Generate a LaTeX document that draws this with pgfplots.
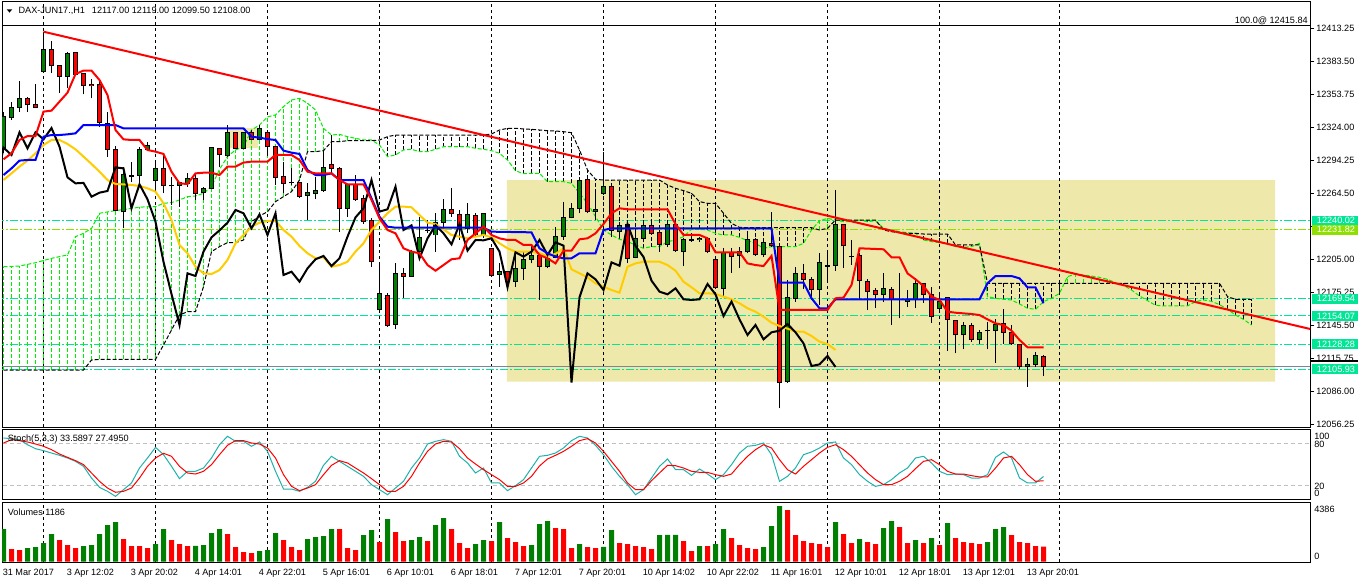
\documentclass[border=0pt]{standalone}
\usepackage{fontspec}
\setmainfont{Liberation Sans}
\usepackage{pgfplots}
\usepackage{pgfplotstable}
\pgfplotsset{compat=1.18}
\definecolor{mtgreen}{HTML}{008000}
\definecolor{mtred}{HTML}{FF0000}
\definecolor{mtgold}{HTML}{FFCC00}
\definecolor{cloudg}{HTML}{00EE00}
\definecolor{pgold}{HTML}{EEE8AA}
\definecolor{spring}{HTML}{00E696}
\definecolor{ygreen}{HTML}{8FE000}
\definecolor{lsg}{HTML}{20B2AA}
\definecolor{slate}{HTML}{778899}
\definecolor{silv}{HTML}{C0C0C0}
\newcommand\mt{\fontsize{6.85pt}{8pt}\selectfont}

\pgfplotstableread{
k o h l c
0 12305.2 12338.3 12300.7 12333.8
1 12333.2 12347.3 12330.7 12342.2
2 12342.2 12366.2 12338.3 12349.7
3 12349.7 12351.8 12338.3 12344.3
4 12344.3 12363.2 12341.3 12342.2
5 12374.3 12410.4 12373.4 12393.9
6 12393.9 12402.0 12372.8 12379.5
7 12379.5 12379.5 12355.4 12370.4
8 12370.4 12392.4 12359.3 12390.9
9 12391.5 12392.4 12371.3 12372.2
10 12372.8 12372.8 12353.9 12361.7
11 12362.9 12367.4 12350.3 12361.7
12 12363.2 12366.8 12324.7 12328.3
13 12327.7 12338.3 12297.7 12304.3
14 12304.3 12307.3 12249.0 12249.0
15 12248.1 12288.7 12233.0 12282.0
16 12280.2 12293.2 12275.1 12280.8
17 12280.5 12306.7 12273.6 12304.3
18 12304.3 12311.2 12303.7 12307.3
19 12276.6 12294.7 12264.6 12287.1
20 12287.1 12299.2 12264.6 12271.5
21 12272.1 12279.6 12254.1 12271.2
22 12271.8 12275.1 12252.6 12274.2
23 12273.6 12283.2 12270.6 12278.1
24 12278.1 12282.6 12258.6 12264.6
25 12265.2 12270.6 12258.6 12269.1
26 12269.1 12306.7 12269.1 12305.8
27 12305.2 12305.2 12288.7 12299.2
28 12298.3 12326.2 12297.7 12319.6
29 12319.3 12320.2 12305.2 12305.2
30 12305.2 12320.2 12305.2 12319.6
31 12319.6 12321.7 12312.7 12313.3
32 12313.3 12326.2 12312.7 12323.5
33 12319.6 12321.7 12298.3 12306.7
34 12306.7 12306.7 12272.1 12279.0
35 12279.6 12293.2 12264.6 12273.6
36 12274.5 12287.1 12272.1 12274.0
37 12274.2 12275.1 12260.1 12261.6
38 12262.8 12273.6 12240.5 12265.2
39 12264.6 12279.6 12259.2 12266.7
40 12267.0 12302.8 12266.1 12288.0
41 12290.2 12317.2 12282.6 12287.1
42 12287.1 12288.7 12230.0 12251.1
43 12251.1 12272.7 12243.5 12272.7
44 12272.7 12281.1 12257.7 12259.2
45 12259.8 12263.1 12236.9 12239.0
46 12239.9 12242.0 12198.4 12202.9
47 12159.4 12199.9 12157.9 12173.8
48 12172.0 12174.4 12144.3 12145.8
49 12146.7 12201.4 12141.9 12192.4
50 12192.4 12196.9 12169.9 12190.0
51 12190.0 12213.5 12189.4 12212.0
52 12212.0 12243.5 12207.5 12224.9
53 12231.5 12240.5 12228.5 12231.2
54 12227.0 12246.6 12212.0 12238.1
55 12238.1 12259.2 12231.5 12249.6
56 12249.6 12269.1 12243.5 12246.6
57 12245.6 12249.6 12222.5 12233.0
58 12233.0 12256.2 12228.5 12245.6
59 12245.0 12246.6 12225.5 12227.0
60 12227.0 12246.6 12224.0 12246.6
61 12215.0 12215.0 12189.4 12190.9
62 12191.8 12201.4 12180.4 12193.9
63 12193.9 12193.9 12178.9 12184.9
64 12184.9 12209.0 12180.4 12196.9
65 12196.9 12212.0 12186.4 12205.1
66 12205.1 12218.0 12201.4 12208.1
67 12208.1 12208.1 12168.4 12199.0
68 12198.4 12209.0 12196.9 12206.0
69 12206.9 12234.5 12206.0 12225.5
70 12225.5 12257.1 12222.5 12242.9
71 12242.9 12255.6 12242.0 12251.1
72 12251.1 12276.6 12246.6 12276.6
73 12277.2 12278.1 12246.6 12248.1
74 12248.1 12264.6 12240.5 12250.2
75 12264.6 12302.2 12263.1 12270.6
76 12271.2 12272.1 12225.5 12231.5
77 12230.0 12239.0 12227.0 12235.7
78 12236.9 12238.1 12201.4 12206.0
79 12206.9 12228.5 12206.0 12224.0
80 12224.0 12239.0 12222.5 12235.7
81 12235.7 12240.5 12227.0 12228.5
82 12229.4 12231.5 12212.0 12218.6
83 12218.6 12240.5 12216.5 12236.6
84 12236.6 12239.0 12212.0 12212.9
85 12212.0 12224.0 12199.0 12222.5
86 12222.5 12228.5 12221.0 12222.2
87 12222.5 12224.9 12221.0 12224.0
88 12224.0 12225.5 12210.5 12212.0
89 12204.5 12204.5 12178.9 12179.8
90 12178.9 12215.0 12171.4 12211.4
91 12211.1 12215.0 12193.0 12207.5
92 12208.1 12216.5 12196.9 12212.0
93 12212.0 12227.0 12210.5 12222.5
94 12222.5 12224.0 12208.1 12209.0
95 12209.0 12222.5 12207.5 12220.4
96 12219.5 12248.1 12216.5 12217.4
97 12216.5 12217.1 12070.6 12093.8
98 12094.7 12186.4 12093.8 12170.8
99 12169.9 12198.4 12166.9 12192.4
100 12192.4 12200.5 12178.0 12187.0
101 12187.0 12189.4 12168.4 12177.4
102 12178.0 12210.5 12163.9 12202.3
103 12199.0 12210.5 12186.4 12199.3
104 12199.3 12267.6 12194.8 12236.9
105 12236.9 12236.9 12196.9 12217.1
106 12207.8 12222.5 12199.9 12207.2
107 12208.1 12210.5 12168.4 12185.8
108 12184.9 12187.0 12159.4 12175.9
109 12176.5 12178.9 12160.9 12173.5
110 12173.5 12192.4 12166.9 12178.9
111 12178.0 12180.4 12145.8 12169.0
112 12168.7 12192.4 12151.8 12168.4
113 12166.9 12177.4 12162.4 12169.0
114 12169.0 12187.9 12160.9 12182.8
115 12182.8 12183.4 12166.0 12173.5
116 12173.5 12180.4 12147.9 12153.9
117 12160.9 12174.4 12159.4 12166.9
118 12170.5 12171.4 12122.7 12150.9
119 12149.7 12149.7 12120.3 12136.8
120 12136.8 12148.8 12123.9 12145.8
121 12145.8 12147.3 12130.8 12132.9
122 12132.3 12141.3 12128.7 12139.2
123 12140.4 12148.8 12123.9 12140.7
124 12140.7 12150.9 12111.8 12146.7
125 12147.3 12160.0 12128.7 12139.2
126 12139.2 12145.8 12127.8 12129.3
127 12128.4 12128.4 12105.8 12108.8
128 12108.2 12115.7 12090.2 12110.3
129 12110.3 12121.8 12108.2 12117.9
130 12117.0 12119.0 12099.5 12108.0
}\candles

\pgfplotstableread{
k a b
0 12198.4 12105.2
1 12198.7 12105.2
2 12199.0 12105.2
3 12200.5 12105.2
4 12202.0 12105.2
5 12204.0 12105.2
6 12205.9 12105.2
7 12207.5 12105.2
8 12209.0 12105.2
9 12225.5 12105.2
10 12228.5 12105.2
11 12233.0 12114.2
12 12246.6 12114.8
13 12247.8 12114.8
14 12249.0 12114.8
15 12250.0 12114.8
16 12251.1 12114.8
17 12252.0 12114.8
18 12252.6 12114.8
19 12252.6 12114.8
20 12255.6 12127.8
21 12256.2 12141.3
22 12258.6 12154.8
23 12261.6 12157.8
24 12262.2 12157.8
25 12264.6 12180.4
26 12270.6 12212.0
27 12286.2 12216.5
28 12297.7 12220.1
29 12303.7 12220.1
30 12306.7 12222.5
31 12321.7 12239.0
32 12326.2 12244.1
33 12333.5 12248.0
34 12335.3 12257.1
35 12342.8 12261.6
36 12348.8 12266.1
37 12350.3 12276.6
38 12345.8 12302.2
39 12339.8 12302.2
40 12323.2 12303.1
41 12317.2 12311.2
42 12317.8 12311.2
43 12315.7 12312.1
44 12314.2 12312.1
45 12312.7 12312.1
46 12312.7 12312.1
47 12308.2 12312.7
48 12297.7 12315.7
49 12299.2 12317.2
50 12303.7 12317.2
51 12304.3 12317.2
52 12302.2 12317.2
53 12302.2 12317.2
54 12304.3 12317.2
55 12306.7 12317.2
56 12306.7 12317.2
57 12306.7 12317.2
58 12306.7 12317.2
59 12305.2 12317.2
60 12304.3 12317.2
61 12303.1 12318.1
62 12300.7 12321.7
63 12294.7 12323.2
64 12285.0 12323.2
65 12282.3 12322.7
66 12282.6 12322.3
67 12282.6 12321.7
68 12275.1 12321.1
69 12275.1 12320.8
70 12275.1 12320.2
71 12273.6 12319.3
72 12264.6 12303.7
73 12255.6 12285.6
74 12243.5 12277.2
75 12231.5 12276.6
76 12227.0 12276.6
77 12223.1 12276.6
78 12221.0 12276.6
79 12218.0 12276.6
80 12215.0 12276.6
81 12216.5 12276.6
82 12216.5 12276.6
83 12221.0 12272.1
84 12222.5 12269.1
85 12225.5 12267.0
86 12232.1 12264.6
87 12232.1 12257.1
88 12231.5 12255.6
89 12228.5 12255.6
90 12227.0 12246.6
91 12227.0 12237.5
92 12224.9 12233.9
93 12221.9 12233.6
94 12219.5 12233.6
95 12215.0 12233.6
96 12216.5 12233.6
97 12216.5 12233.6
98 12216.5 12233.6
99 12216.5 12233.6
100 12219.5 12233.6
101 12231.5 12233.6
102 12239.9 12231.5
103 12242.0 12233.0
104 12240.5 12240.5
105 12239.0 12240.5
106 12239.0 12240.5
107 12240.5 12240.5
108 12239.0 12240.5
109 12239.9 12240.5
110 12233.0 12231.5
111 12231.5 12230.0
112 12230.0 12229.1
113 12229.1 12228.5
114 12228.5 12228.5
115 12222.5 12227.9
116 12221.0 12227.9
117 12220.1 12227.9
118 12219.5 12227.9
119 12216.5 12218.0
120 12215.9 12218.0
121 12216.5 12218.0
122 12219.5 12218.0
123 12171.4 12183.4
124 12169.9 12183.4
125 12169.0 12183.4
126 12168.4 12183.4
127 12164.8 12183.4
128 12160.9 12183.4
129 12160.0 12183.4
130 12166.9 12183.4
131 12169.9 12183.4
132 12174.4 12183.4
133 12189.4 12183.4
134 12191.8 12183.4
135 12190.9 12183.4
136 12190.0 12183.4
137 12188.8 12183.4
138 12187.0 12183.4
139 12184.0 12183.4
140 12181.6 12183.4
141 12177.4 12183.4
142 12172.0 12183.4
143 12167.8 12183.4
144 12163.6 12183.4
145 12163.0 12183.4
146 12163.0 12183.4
147 12163.0 12183.4
148 12163.0 12183.4
149 12166.9 12183.4
150 12168.4 12183.4
151 12167.2 12183.4
152 12164.2 12183.4
153 12160.0 12171.4
154 12154.8 12169.0
155 12150.9 12169.0
156 12145.8 12169.0
}\cloud

\begin{document}
\begin{tikzpicture}
\path[fill=white] (0,0) rectangle (1018.5pt,438pt);
\pgfplotsset{
  mtax/.style={scale only axis, width=981pt, xmin=-0.1875, xmax=163.3125,
    axis line style={black,line width=0.75pt}, xtick=\empty},
  vgrid/.style={black, line width=0.75pt, dash pattern=on 2.25pt off 2.25pt, forget plot, mark=none},
  hline/.style={line width=0.75pt, dash pattern=on 6pt off 1.5pt on 1.5pt off 1.5pt, forget plot, mark=none},
  ebar/.style={draw=none, mark=none, forget plot},
}
% ---------------- main price panel ----------------
\begin{axis}[mtax, at={(1.5pt,117pt)}, anchor=south west, height=319.5pt,
  ymin=12052.9, ymax=12437.2,
  ytick={12056.25,12086.00,12115.75,12145.50,12175.25,12205.00,12234.75,12264.50,12294.25,12324.00,12353.75,12383.50,12413.25},
  yticklabels={12056.25,12086.00,12115.75,12145.50,12175.25,12205.00,{},12264.50,12294.25,12324.00,12353.75,12383.50,12413.25},
  ytick pos=right, yticklabel pos=right, tick align=outside,
  major tick length=3pt, tick style={black, line width=0.75pt},
  yticklabel style={font=\mt, anchor=west, inner sep=0pt}, yticklabel shift=1.5pt]
 % yellow rectangles
 \addplot[fill=pgold, draw=none, mark=none, forget plot] coordinates {(62.93,12094.7) (158.96,12094.7) (158.96,12276.6) (62.93,12276.6) (62.93,12094.7)};
 \addplot[fill=pgold, draw=none, mark=none, forget plot] coordinates {(27.94,12305.5) (31.8,12305.5) (31.8,12323.5) (27.94,12323.5) (27.94,12305.5)};
 % grid
 \pgfplotsinvokeforeach{5,19,33,47,61,75,89,103,117,132}{
   \addplot[vgrid] coordinates {(#1,12000) (#1,12500)};
 }
 % horizontal levels
 \addplot[hline, spring] coordinates {(-1,12240.02) (170,12240.02)};
 \addplot[hline, ygreen] coordinates {(-1,12231.82) (170,12231.82)};
 \addplot[hline, spring] coordinates {(-1,12169.54) (170,12169.54)};
 \addplot[hline, spring] coordinates {(-1,12154.07) (170,12154.07)};
 \addplot[hline, spring] coordinates {(-1,12128.28) (170,12128.28)};
 \addplot[hline, spring] coordinates {(-1,12105.93) (170,12105.93)};
 \addplot[slate, line width=0.75pt, mark=none, forget plot] coordinates {(-1,12108.0) (170,12108.0)};
 \addplot[black, line width=0.75pt, mark=none, forget plot] coordinates {(-1,12415.84) (170,12415.84)};
 % ichimoku cloud hatch
 \addplot[cloudg, ebar, error bars/.cd, y dir=plus, y explicit, error mark=none,
   error bar style={draw=cloudg, line width=0.75pt, dash pattern=on 3pt off 1.5pt}]
   table[x=k, y=b, y error plus expr={max(\thisrow{a}-\thisrow{b},0)}]{\cloud};
 \addplot[black, ebar, error bars/.cd, y dir=plus, y explicit, error mark=none,
   error bar style={draw=black, line width=0.75pt, dash pattern=on 3pt off 1.5pt}]
   table[x=k, y=a, y error plus expr={max(\thisrow{b}-\thisrow{a},0)}]{\cloud};
 \addplot[cloudg, line width=0.75pt, dash pattern=on 3pt off 1.5pt, mark=none, forget plot] table[x=k, y=a]{\cloud};
 \addplot[black, line width=0.75pt, dash pattern=on 3pt off 1.5pt, mark=none, forget plot] table[x=k, y=b]{\cloud};
 % candles: wicks
 \addplot[ebar, error bars/.cd, y dir=plus, y explicit, error mark=none,
   error bar style={color=black, solid, line width=0.75pt}]
   table[x=k, y=l, y error plus expr={\thisrow{h}-\thisrow{l}}]{\candles};
 % bodies outline
 \addplot[ebar, error bars/.cd, y dir=plus, y explicit, error mark=none,
   error bar style={color=black, solid, line width=3.75pt}]
   table[x=k, y expr={min(\thisrow{o},\thisrow{c})-0.45}, y error plus expr={abs(\thisrow{c}-\thisrow{o})+0.9}]{\candles};
 % bodies fill
 \addplot[ebar, error bars/.cd, y dir=plus, y explicit, error mark=none,
   error bar style={color=mtgreen, solid, line width=2.25pt}]
   table[x=k, y expr={\thisrow{o}+0.45}, y error plus expr={max(\thisrow{c}-\thisrow{o}-0.9,0)}]{\candles};
 \addplot[ebar, error bars/.cd, y dir=plus, y explicit, error mark=none,
   error bar style={color=mtred, solid, line width=2.25pt}]
   table[x=k, y expr={\thisrow{c}+0.45}, y error plus expr={max(\thisrow{o}-\thisrow{c}-0.9,0)}]{\candles};
 % yellow line
 \addplot[mtgold, line width=1.5pt, mark=none, forget plot] coordinates {
 (0,12276.6)(1,12282.6)(2,12288.7)(3,12294.1)(4,12300.7)(5,12308.2)(6,12312.7)(7,12312.7)(8,12309.1)(9,12304.3)
 (10,12297.7)(11,12291.1)(12,12284.1)(13,12276.6)(14,12273.0)(15,12272.7)(16,12272.1)(17,12271.2)(18,12269.1)(19,12266.1)
 (20,12255.6)(21,12240.5)(22,12218.0)(23,12210.5)(24,12198.4)(25,12192.4)(26,12191.8)(27,12195.4)(28,12204.5)(29,12219.5)
 (30,12227.0)(31,12234.5)(32,12238.1)(33,12239.5)(34,12239.9)(35,12231.5)(36,12225.5)(37,12217.1)(38,12210.5)(39,12206.0)
 (40,12206.9)(41,12198.4)(42,12199.9)(43,12202.9)(44,12212.0)(45,12219.5)(46,12231.5)(47,12239.0)(48,12246.6)(49,12252.6)
 (50,12252.6)(51,12252.0)(52,12245.0)(53,12238.1)(54,12236.9)(55,12232.1)(56,12227.0)(57,12225.5)(58,12224.0)(59,12225.5)
 (60,12227.0)(61,12224.9)(62,12219.5)(63,12215.0)(64,12212.0)(65,12212.0)(66,12212.0)(67,12210.5)(68,12208.1)(69,12209.9)
 (70,12215.0)(71,12196.0)(72,12192.4)(73,12188.8)(74,12183.4)(75,12180.4)(76,12177.4)(77,12175.0)(78,12198.4)(79,12201.4)
 (80,12202.9)(81,12202.9)(82,12202.9)(83,12199.9)(84,12194.8)(85,12184.9)(86,12179.8)(87,12174.4)(88,12174.4)(89,12173.8)
 (90,12171.4)(91,12169.0)(92,12165.4)(93,12160.9)(94,12157.8)(95,12153.3)(96,12147.9)(97,12144.9)(98,12142.5)(99,12139.8)
 (100,12139.8)(101,12135.9)(102,12130.8)(103,12128.7)(104,12123.3)};
 % chikou span (close shifted 26 bars back)
 \addplot[black, line width=1.5pt, mark=none, forget plot] table[x expr={\thisrow{k}-26}, y=c]{\candles};
 % kijun
 \addplot[blue, line width=1.5pt, mark=none, forget plot] coordinates {
 (0,12281.1)(1,12287.1)(2,12294.1)(3,12294.7)(4,12294.7)(5,12315.7)(6,12317.2)(7,12317.2)(8,12317.8)(9,12318.7)
 (10,12326.2)(14,12326.2)(15,12323.2)(30,12323.2)(31,12315.7)(32,12314.8)(33,12313.5)(34,12312.7)(35,12303.1)(36,12301.3)
 (37,12300.1)(38,12285.6)(39,12281.1)(40,12281.1)(41,12282.6)(42,12276.6)(45,12276.6)(46,12260.1)(47,12243.5)(48,12234.5)
 (49,12233.6)(60,12233.6)(61,12230.0)(66,12229.4)(67,12215.0)(68,12210.5)(69,12207.5)(70,12206.0)(71,12206.0)(72,12210.5)
 (74,12210.5)(75,12231.5)(76,12233.0)(96,12233.0)(97,12184.0)(100,12184.0)(101,12169.9)(102,12160.9)(103,12160.9)(104,12169.0)
 (122,12169.0)(123,12183.4)(124,12190.0)(126,12190.0)(127,12187.9)(128,12179.8)(129,12179.8)(130,12165.4)};
 % tenkan
 \addplot[mtred, line width=1.5pt, mark=none, forget plot] coordinates {
 (0,12295.3)(1,12300.7)(2,12312.7)(3,12316.3)(4,12316.3)(5,12338.3)(6,12339.2)(7,12347.3)(8,12355.4)(9,12372.2)
 (10,12375.3)(11,12375.3)(12,12366.8)(13,12353.3)(14,12321.7)(15,12313.3)(16,12312.7)(17,12312.7)(18,12303.7)(19,12302.2)
 (20,12300.1)(21,12284.1)(22,12273.6)(23,12273.0)(24,12282.6)(25,12283.2)(26,12283.2)(27,12281.1)(28,12288.7)(29,12288.7)
 (30,12292.3)(31,12293.2)(32,12293.2)(33,12293.2)(34,12299.2)(35,12299.2)(36,12299.2)(37,12294.7)(38,12284.1)(39,12282.6)
 (40,12282.6)(41,12282.6)(42,12276.6)(43,12272.7)(44,12272.7)(45,12272.7)(46,12258.6)(47,12242.0)(48,12231.5)(49,12228.5)
 (50,12215.0)(51,12212.0)(52,12210.5)(53,12199.9)(54,12194.8)(55,12199.9)(56,12205.1)(57,12206.0)(58,12222.5)(59,12228.5)
 (60,12234.5)(61,12227.0)(62,12224.0)(63,12222.5)(64,12222.5)(65,12218.0)(66,12218.0)(67,12208.9)(68,12206.0)(69,12201.4)
 (70,12212.9)(71,12212.9)(72,12223.1)(73,12224.0)(74,12228.5)(75,12236.9)(76,12246.6)(77,12251.1)(78,12250.2)(83,12250.2)
 (84,12236.9)(85,12227.0)(87,12227.0)(88,12224.0)(89,12211.4)(92,12211.4)(93,12201.4)(94,12199.9)(95,12199.0)(96,12208.1)
 (97,12159.4)(103,12159.4)(104,12169.9)(105,12170.5)(106,12181.9)(107,12215.0)(110,12214.1)(111,12206.9)(112,12206.9)(113,12192.4)
 (114,12187.0)(115,12181.0)(116,12171.4)(117,12168.4)(118,12157.8)(119,12156.9)(120,12156.3)(121,12155.7)(122,12154.8)(123,12150.9)
 (124,12147.3)(125,12145.8)(126,12140.7)(127,12132.3)(128,12125.7)(130,12125.7)};
 % trendline
 \addplot[mtred, line width=1.5pt, mark=none, forget plot] coordinates {(5,12410.4) (163.34,12142.2)};
\end{axis}
% ---------------- stochastic panel ----------------
\begin{axis}[mtax, at={(1.5pt,63pt)}, anchor=south west, height=52.5pt, ymin=0, ymax=100, ytick=\empty]
 \pgfplotsinvokeforeach{5,19,33,47,61,75,89,103,117,132}{
   \addplot[vgrid] coordinates {(#1,-10) (#1,110)};
 }
 \addplot[silv, line width=0.75pt, dash pattern=on 3pt off 2.25pt, mark=none, forget plot] coordinates {(-1,80) (170,80)};
 \addplot[silv, line width=0.75pt, dash pattern=on 3pt off 2.25pt, mark=none, forget plot] coordinates {(-1,20) (170,20)};
 \addplot[lsg, line width=0.75pt, mark=none, forget plot] coordinates {
 (0,88.6)(1,87.6)(2,86.2)(3,79.0)(4,73.3)(5,70.5)(6,67.1)(7,63.8)(8,60.0)(9,55.2)(10,48.1)(11,31.4)(12,18.1)(13,12.4)(14,5.2)
 (15,14.8)(16,24.3)(17,45.7)(18,60.0)(19,75.2)(20,64.8)(21,48.1)(22,30.5)(23,41.0)(24,41.0)(25,45.7)(26,60.0)(27,79.0)(28,91.0)
 (29,83.8)(30,83.8)(31,76.7)(32,82.9)(33,69.5)(34,41.0)(35,15.7)(36,15.7)(37,12.4)(38,18.1)(39,26.7)(40,49.5)(41,62.4)(42,55.2)
 (43,48.1)(44,41.0)(45,33.8)(46,21.9)(47,14.8)(48,7.6)(49,17.1)(50,26.7)(51,45.7)(52,60.0)(53,80.0)(54,83.8)(55,86.2)(56,83.8)
 (57,62.4)(58,52.9)(59,38.6)(60,45.7)(61,24.3)(62,24.3)(63,13.3)(64,20.5)(65,29.1)(66,45.7)(67,62.4)(68,63.8)(69,67.1)(70,74.3)
 (71,84.8)(72,91.0)(73,88.6)(74,78.1)(75,64.8)(76,48.1)(77,33.8)(78,21.9)(79,7.6)(80,14.8)(81,31.4)(82,48.1)(83,58.6)(84,43.3)
 (85,43.3)(86,35.2)(87,44.3)(88,37.1)(89,29.1)(90,36.2)(91,50.5)(92,67.1)(93,76.7)(94,78.1)(95,81.4)(96,64.8)(97,26.7)(98,33.8)
 (99,45.7)(100,64.8)(101,68.6)(102,74.3)(103,81.4)(104,82.9)(105,60.0)(106,50.5)(107,36.2)(108,26.7)(109,19.5)(110,21.9)(111,29.1)
 (112,38.6)(113,45.7)(114,60.0)(115,62.4)(116,52.9)(117,41.0)(118,36.2)(119,37.1)(120,36.2)(121,31.4)(122,31.4)(123,36.2)(124,60.9)
 (125,68.6)(126,60.0)(127,31.4)(128,24.3)(129,24.3)(130,33.59)};
 \addplot[mtred, line width=0.75pt, mark=none, forget plot] coordinates {
 (0,81.4)(1,86.2)(2,84.8)(3,82.9)(4,80.0)(5,76.7)(6,71.9)(7,65.7)(8,60.9)(9,56.2)(10,50.5)(11,38.6)(12,26.7)(13,17.1)(14,11.0)
 (15,12.4)(16,17.1)(17,31.4)(18,48.1)(19,60.0)(20,66.7)(21,62.4)(22,48.1)(23,38.6)(24,37.1)(25,41.0)(26,50.5)(27,64.8)(28,78.1)
 (29,84.8)(30,84.8)(31,81.4)(32,80.0)(33,74.3)(34,60.0)(35,36.2)(36,19.5)(37,13.3)(38,17.1)(39,21.9)(40,36.2)(41,49.5)(42,56.2)
 (43,52.9)(44,45.7)(45,38.6)(46,30.5)(47,21.9)(48,12.4)(49,12.4)(50,19.5)(51,33.8)(52,52.9)(53,69.5)(54,80.0)(55,83.8)(56,82.9)
 (57,73.3)(58,60.0)(59,51.4)(60,43.3)(61,36.2)(62,29.1)(63,19.5)(64,19.5)(65,24.3)(66,33.8)(67,48.6)(68,58.6)(69,63.8)(70,69.5)
 (71,76.7)(72,84.8)(73,87.6)(74,81.4)(75,69.5)(76,55.2)(77,41.0)(78,24.3)(79,14.8)(80,14.8)(81,27.6)(82,38.6)(83,49.5)(84,49.0)
 (85,45.7)(86,41.0)(87,39.5)(88,39.5)(89,36.2)(90,33.8)(91,37.1)(92,50.5)(93,62.4)(94,71.9)(95,79.0)(96,74.3)(97,57.6)(98,43.3)
 (99,37.1)(100,48.1)(101,57.6)(102,67.1)(103,75.2)(104,79.0)(105,71.9)(106,62.4)(107,50.5)(108,38.6)(109,29.1)(110,21.9)(111,21.9)
 (112,26.7)(113,33.8)(114,44.8)(115,55.2)(116,57.6)(117,50.5)(118,41.0)(119,37.1)(120,37.1)(121,34.8)(122,32.9)(123,32.9)(124,45.7)
 (125,60.0)(126,62.4)(127,50.5)(128,36.2)(129,26.7)(130,27.50)};
\end{axis}
% ---------------- volume panel ----------------
\begin{axis}[mtax, at={(1.5pt,15.975pt)}, anchor=south west, height=45pt, ymin=-80, ymax=4650, ytick=\empty]
 \pgfplotsinvokeforeach{5,19,33,47,61,75,89,103,117,132}{
   \addplot[vgrid] coordinates {(#1,-500) (#1,6000)};
 }
 \addplot[ybar, bar width=3.75pt, fill=mtgreen, draw=none, mark=none, forget plot] coordinates {
 (0,2573)(3,1077)(4,1155)(5,1471)(6,2180)(10,1234)(11,1313)(12,2180)(13,2889)(14,3125)(19,1392)(20,2573)(24,1240)(25,1313)
 (26,2258)(27,2573)(32,840)(33,919)(34,2258)(38,1786)(39,1943)(40,2022)(41,2573)(45,2101)(46,2495)(48,3361)(51,1707)(52,1943)
 (54,2889)(55,3440)(59,1392)(60,1707)(62,3125)(66,1313)(67,2967)(68,3204)(72,1392)(75,1160)(76,2495)(82,2101)(83,2110)(84,2120)
 (87,1234)(89,1392)(90,2573)(95,1155)(96,2810)(97,4386)(104,3125)(107,1786)(110,2652)(111,3204)(114,1707)(116,1864)(118,3046)
 (123,1549)(124,2573)(125,2731)};
 \addplot[ybar, bar width=3.75pt, fill=mtred, draw=none, mark=none, forget plot] coordinates {
 (1,998)(2,919)(7,1707)(8,1313)(9,1077)(15,1786)(16,1234)(17,1230)(18,1077)(21,1707)(22,1392)(23,1234)(28,2180)(29,1155)(30,762)
 (31,683)(35,1707)(36,1155)(37,919)(42,2570)(43,1077)(44,919)(47,1549)(49,2337)(50,1628)(53,1628)(56,2573)(57,1471)(58,1077)
 (61,1628)(63,1864)(64,1549)(65,1234)(69,2652)(70,2573)(71,1077)(73,1155)(74,1077)(77,1471)(78,1392)(79,1234)(80,1155)(81,998)
 (85,1628)(86,840)(88,1230)(91,1864)(92,1313)(93,1077)(94,998)(98,4070)(99,2101)(100,1628)(101,1471)(102,1392)(103,1155)
 (105,2180)(106,1471)(108,1549)(109,1392)(112,2731)(113,1471)(115,1471)(117,1313)(119,1864)(120,1549)(121,1471)(122,1392)
 (126,2101)(127,1549)(128,1471)(129,1234)(130,1186)};
\end{axis}
% ---------------- texts and labels (pixel coordinates) ----------------
\begin{scope}[x=0.75pt, y=-0.75pt, yshift=438pt]
 \fill (6.7,9.3) -- (12.3,9.3) -- (9.5,12.6) -- cycle;
 \node[anchor=base west, inner sep=0pt, font=\mt] at (18.3,14) {DAX-JUN17.,H1};
 \node[anchor=base west, inner sep=0pt, font=\mt] at (91.7,14) {12117.00 12119.00 12099.50 12108.00};
 \node[anchor=base east, inner sep=0pt, font=\mt] at (1308,24) {100.0@ 12415.84};
 \draw[line width=1.5pt] (1311,360.7) -- (1358,360.7);
 \foreach \v/\yy/\c in {12240.02/220.6/spring, 12231.82/229.7/ygreen, 12169.54/298.7/spring, 12154.07/315.9/spring, 12128.28/344.4/spring, 12105.93/369.2/spring}{
   \fill[\c] (1311.7,\yy-5) rectangle (1358,\yy+5);
   \node[anchor=west, inner sep=0pt, font=\mt, text=white] at (1316.7,\yy) {\v};
 }
 \node[anchor=base west, inner sep=0pt, font=\mt] at (7.6,441.5) {Stoch(5,3,3) 33.5897 27.4950};
 \node[anchor=west, inner sep=0pt, font=\mt] at (1314,436.7) {100};
 \node[anchor=west, inner sep=0pt, font=\mt] at (1314,444.3) {80};
 \node[anchor=west, inner sep=0pt, font=\mt] at (1314,486.3) {20};
 \node[anchor=west, inner sep=0pt, font=\mt] at (1314,493.3) {0};
 \node[anchor=base west, inner sep=0pt, font=\mt] at (7.6,515.3) {Volumes 1186};
 \node[anchor=west, inner sep=0pt, font=\mt] at (1314,509.3) {4386};
 \node[anchor=west, inner sep=0pt, font=\mt] at (1314,556) {0};
 \foreach \lab [count=\j from 0] in {31 Mar 2017,3 Apr 12:02,3 Apr 20:02,4 Apr 14:01,4 Apr 22:01,5 Apr 16:01,6 Apr 10:01,6 Apr 18:01,7 Apr 12:01,7 Apr 20:01,10 Apr 14:02,10 Apr 22:02,11 Apr 16:01,12 Apr 10:01,12 Apr 18:01,13 Apr 12:01,13 Apr 20:01}{
   \node[anchor=base west, inner sep=0pt, font=\mt] at (2.5+64*\j,575.6) {\lab};
 }
\end{scope}
\pgfresetboundingbox
\path (0,0) rectangle (1018.5pt,438pt);
\end{tikzpicture}
\end{document}
